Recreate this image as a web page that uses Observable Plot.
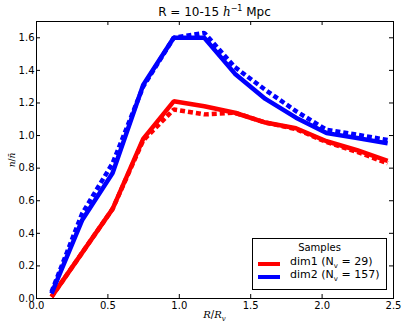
<!DOCTYPE html>
<html>
<head>
<meta charset="utf-8">
<script src="https://cdn.jsdelivr.net/npm/d3@7"></script>
<script src="https://cdn.jsdelivr.net/npm/@observablehq/plot@0.6"></script>
<style>
  html, body { margin: 0; padding: 0; background: #fff; }
  #wrap { position: relative; width: 407px; height: 329px; font-family: "DejaVu Sans", sans-serif; }
  #title { position: absolute; left: 0; width: 429px; top: 4px; text-align: center; font-size: 12px; color: #000; }
  .math { font-family: "DejaVu Serif", serif; font-style: italic; }
  #xlabel { position: absolute; left: 0; width: 429px; top: 309px; text-align: center; font-size: 10px; }
  #ylabel { position: absolute; left: 12px; top: 160px; transform: translate(-50%, -50%) rotate(-90deg); font-size: 9px; white-space: nowrap; }
  #legend { position: absolute; left: 252px; top: 238px; width: 135px; height: 52px; border: 1px solid #000; background: #fff; box-sizing: border-box; font-size: 11px; }
  #legend .lt { position: absolute; left: 0; width: 100%; top: 3px; text-align: center; font-size: 10px; }
  #legend .row { position: absolute; left: 5px; white-space: nowrap; }
  #legend .sw { position: absolute; left: 0; width: 22px; height: 4px; }
  #legend .tx { position: absolute; left: 32px; top: -7px; }
  sub { font-size: 7px; }
</style>
</head>
<body>
<div id="wrap">
  <div id="title">R = 10-15 <span class="math">h</span><sup style="font-size:8px">−1</sup> Mpc</div>
  <div id="ylabel"><span class="math">n</span>/<span class="math">n̄</span></div>
  <div id="xlabel"><span class="math">R</span>/<span class="math">R<sub>v</sub></span></div>
  <div id="legend">
    <div class="lt">Samples</div>
    <div class="row" style="top:23px"><div class="sw" style="background:#ff0000"></div><div class="tx">dim1 (N<sub>v</sub> = 29)</div></div>
    <div class="row" style="top:36px"><div class="sw" style="background:#0000ff"></div><div class="tx">dim2 (N<sub>v</sub> = 157)</div></div>
  </div>
</div>
<script>
const xs = [0.105, 0.319, 0.533, 0.747, 0.961, 1.175, 1.389, 1.603, 1.817, 2.031, 2.245, 2.459];
const dim1Solid  = [0.01, 0.28, 0.55, 0.98, 1.21, 1.18, 1.14, 1.08, 1.045, 0.965, 0.91, 0.845];
const dim1Dashed = [0.01, 0.28, 0.55, 0.97, 1.16, 1.13, 1.14, 1.08, 1.04, 0.96, 0.90, 0.83];
const dim2Solid  = [0.03, 0.48, 0.77, 1.31, 1.60, 1.60, 1.38, 1.225, 1.11, 1.015, 0.985, 0.952];
const dim2Dashed = [0.04, 0.52, 0.83, 1.30, 1.60, 1.63, 1.42, 1.28, 1.15, 1.035, 1.005, 0.973];
const xTicks = [0.0, 0.5, 1.0, 1.5, 2.0, 2.5];
const yTicks = [0.0, 0.2, 0.4, 0.6, 0.8, 1.0, 1.2, 1.4, 1.6];

const series = [
  {name: "dim1 solid", vals: dim1Solid, color: "#ff0000", dash: null},
  {name: "dim1 dashed", vals: dim1Dashed, color: "#ff0000", dash: "5,3"},
  {name: "dim2 solid", vals: dim2Solid, color: "#0000ff", dash: null},
  {name: "dim2 dashed", vals: dim2Dashed, color: "#0000ff", dash: "5,3"}
];

const W = 407, H = 329, mL = 36, mR = 14, mT = 21, mB = 31;
const innerW = W - mL - mR, innerH = H - mT - mB;
const tl = 4;

const lineMarks = series.map(s => Plot.line(xs.map((x, i) => ({x, y: s.vals[i]})), {
  x: "x", y: "y", stroke: s.color, strokeWidth: 4.5,
  strokeDasharray: s.dash, strokeLinejoin: "miter", strokeLinecap: "butt"
}));

const chart = Plot.plot({
  width: W, height: H,
  marginLeft: mL, marginRight: mR, marginTop: mT, marginBottom: mB,
  style: {fontFamily: "DejaVu Sans, sans-serif", fontSize: "10px", background: "transparent", color: "#000"},
  x: {domain: [0, 2.5]},
  y: {domain: [0, 1.7]},
  marks: [
    Plot.axisX(xTicks, {tickSize: 0, tickPadding: 3, tickFormat: d3.format(".1f"), label: null, fontSize: 10}),
    Plot.axisY(yTicks, {tickSize: 0, tickPadding: 2, tickFormat: d3.format(".1f"), label: null, fontSize: 10}),
    Plot.tickX(xTicks, {x: d => d, insetTop: innerH - tl, stroke: "#000"}),
    Plot.tickX(xTicks, {x: d => d, insetBottom: innerH - tl, stroke: "#000"}),
    Plot.tickY(yTicks, {y: d => d, insetRight: innerW - tl, stroke: "#000"}),
    Plot.tickY(yTicks, {y: d => d, insetLeft: innerW - tl, stroke: "#000"}),
    ...lineMarks,
    Plot.frame({stroke: "#000", strokeWidth: 1})
  ]
});
chart.style.position = "absolute";
chart.style.left = "0px";
chart.style.top = "0px";
const wrap = document.getElementById("wrap");
wrap.insertBefore(chart, wrap.firstChild);
</script>
</body>
</html>
